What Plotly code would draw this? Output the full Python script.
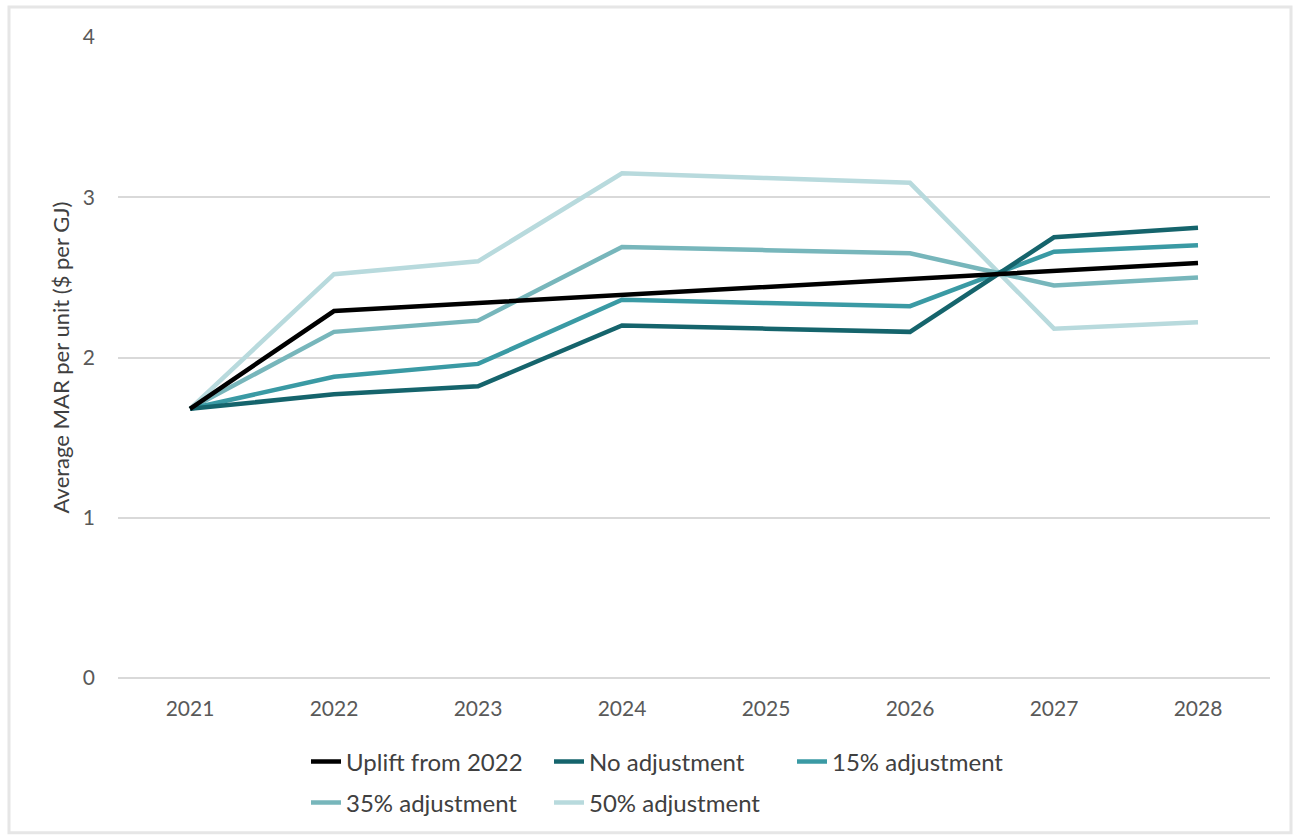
import plotly.graph_objects as go

years = ["2021", "2022", "2023", "2024", "2025", "2026", "2027", "2028"]
uplift = [1.68, 2.29, 2.34, 2.39, 2.44, 2.49, 2.54, 2.59]
no_adj = [1.68, 1.77, 1.82, 2.20, 2.18, 2.16, 2.75, 2.81]
adj15 = [1.68, 1.88, 1.96, 2.36, 2.34, 2.32, 2.66, 2.70]
adj35 = [1.68, 2.16, 2.23, 2.69, 2.67, 2.65, 2.45, 2.50]
adj50 = [1.68, 2.52, 2.60, 3.15, 3.12, 3.09, 2.18, 2.22]

series = [
    ("Uplift from 2022", uplift, "#000000", "legend"),
    ("No adjustment", no_adj, "#15646c", "legend"),
    ("15% adjustment", adj15, "#3a9aa4", "legend"),
    ("35% adjustment", adj35, "#77b6bb", "legend2"),
    ("50% adjustment", adj50, "#b8dadd", "legend2"),
]

fig = go.Figure()
order = [4, 3, 2, 1, 0]
for i in order:
    name, vals, col, lg = series[i]
    fig.add_trace(go.Scatter(
        x=years, y=vals, mode="lines", name=name,
        line=dict(color=col, width=4.5),
        legendrank=i + 1, legend=lg,
    ))

font_family = "Lato, 'Open Sans', sans-serif"
W, H = 1295, 836
L, R, T, B = 118, 25, 37, 157
pw = W - L - R
ph = H - T - B

def px(x):
    return (x - L) / pw

def py(y):
    return (H - B - y) / ph

legend_common = dict(
    orientation="h", xanchor="left", yanchor="middle",
    entrywidth=198, entrywidthmode="pixels",
    font=dict(size=24, color="#404040"),
    traceorder="normal", bgcolor="rgba(0,0,0,0)",
)

fig.update_layout(
    width=W, height=H,
    margin=dict(l=L, r=R, t=T, b=B),
    paper_bgcolor="white", plot_bgcolor="white",
    font=dict(family=font_family, size=21, color="#595959"),
    showlegend=True,
    legend=dict(x=px(306), y=py(762), **legend_common),
    legend2=dict(x=px(306), y=py(803), **legend_common),
    xaxis=dict(
        type="category", range=[-0.5, 7.5], showgrid=False, showline=False,
        zeroline=False, ticks="", ticklabelstandoff=16,
        tickfont=dict(size=21, color="#595959"),
    ),
    yaxis=dict(
        range=[0, 4], dtick=1, tick0=0, showgrid=True, gridcolor="#d9d9d9",
        gridwidth=1.5, zeroline=True, zerolinecolor="#d9d9d9", zerolinewidth=1.5,
        showline=False, ticks="", ticklabelstandoff=22,
        tickfont=dict(size=21, color="#595959"),
        title=dict(text="Average MAR per unit ($ per GJ)", standoff=7,
                   font=dict(size=22, color="#404040")),
    ),
    shapes=[dict(
        type="rect", xref="paper", yref="paper",
        x0=px(9), x1=px(1291), y0=py(834), y1=py(7),
        line=dict(color="#e6e6e6", width=3), fillcolor="rgba(0,0,0,0)", layer="below",
    )],
)

fig.write_html("out.html")
